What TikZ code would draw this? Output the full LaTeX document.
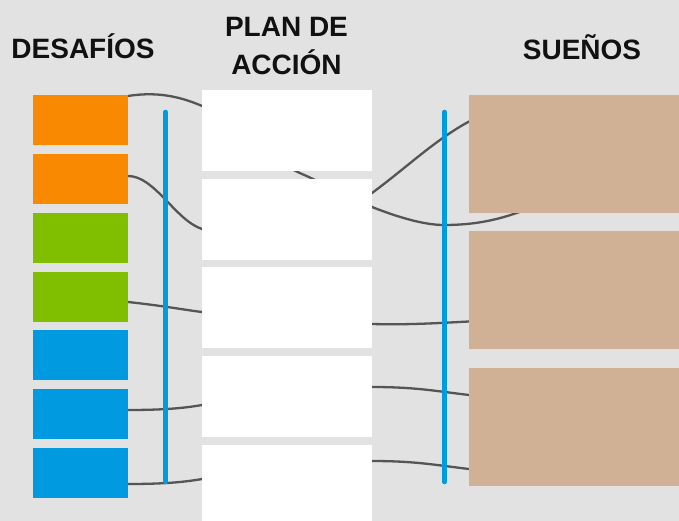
\documentclass[tikz,border=0pt]{standalone}
\usepackage{fontspec}
\setmainfont{Liberation Sans}
\usetikzlibrary{calc}
\definecolor{bggray}{RGB}{226,226,226}
\definecolor{dorange}{RGB}{248,137,0}
\definecolor{dgreen}{RGB}{128,191,0}
\definecolor{dblue}{RGB}{0,154,224}
\definecolor{stan}{RGB}{209,177,150}
\definecolor{curvegray}{RGB}{85,85,85}
\definecolor{titleblack}{RGB}{17,17,17}
\begin{document}
\begin{tikzpicture}[x=1pt,y=-1pt,
  desbox/.style={draw=none,fill=#1,minimum width=95pt,minimum height=50pt,inner sep=0pt,outer sep=0pt,anchor=north west},
  planbox/.style={draw=none,fill=white,minimum width=170pt,minimum height=81pt,inner sep=0pt,outer sep=0pt,anchor=north west},
  suebox/.style={draw=none,fill=stan,minimum width=210pt,minimum height=118pt,inner sep=0pt,outer sep=0pt,anchor=north west},
  link/.style={draw=curvegray,line width=2.3pt},
  bar/.style={draw=dblue,line width=4.5pt,line cap=round},
  title/.style={font=\bfseries\fontsize{28}{38}\selectfont,text=titleblack,inner sep=0pt,anchor=base,align=center}
]
\fill[bggray] (0,0) rectangle (679,521);
\useasboundingbox (0,0) rectangle (679,521);

% connectors drawn first (behind boxes)
\coordinate (a1) at (128,96);
\coordinate (a2) at (302,174);
\coordinate (a3) at (444,225);
\coordinate (a4) at (530,208);
\draw[link] (a1) .. controls (160,91) and (185,97) .. (215,112)
  .. controls (245,128) and (275,163) .. (a2)
  .. controls (330,186) and (350,200) .. (372,207)
  .. controls (400,218) and (425,225) .. (a3)
  .. controls (475,225) and (500,220) .. (a4);
\coordinate (b1) at (128,176);
\coordinate (b2) at (202,229);
\coordinate (b3) at (372,193);
\coordinate (b4) at (478,117);
\draw[link] (b1) .. controls (155,176) and (175,220) .. (b2)
  .. controls (280,250) and (330,217) .. (b3)
  .. controls (410,165) and (440,135) .. (b4);
\coordinate (c1) at (128,302);
\coordinate (c2) at (202,312);
\coordinate (c3) at (372,324);
\coordinate (c4) at (478,321);
\draw[link] (c1) .. controls (165,306) and (185,310) .. (c2) -- (c3)
  .. controls (410,325) and (440,323) .. (c4);
\coordinate (e1) at (128,410);
\coordinate (e2) at (202,405);
\coordinate (e3) at (372,387);
\coordinate (e4) at (478,396);
\draw[link] (e1) .. controls (165,410) and (185,408) .. (e2) -- (e3)
  .. controls (420,387) and (440,392) .. (e4);
\coordinate (f1) at (128,484);
\coordinate (f2) at (202,479);
\coordinate (f3) at (372,461);
\coordinate (f4) at (478,470);
\draw[link] (f1) .. controls (165,484) and (185,482) .. (f2) -- (f3)
  .. controls (420,461) and (440,466) .. (f4);

% left boxes
\node[desbox=dorange] (d1) at (33,95) {};
\node[desbox=dorange] (d2) at (33,154) {};
\node[desbox=dgreen] (d3) at (33,213) {};
\node[desbox=dgreen] (d4) at (33,272) {};
\node[desbox=dblue] (d5) at (33,330) {};
\node[desbox=dblue] (d6) at (33,389) {};
\node[desbox=dblue] (d7) at (33,448) {};

% plan boxes
\node[planbox] (p1) at (202,90) {};
\node[planbox] (p2) at (202,179) {};
\node[planbox] (p3) at (202,267) {};
\node[planbox] (p4) at (202,356) {};
\node[planbox,minimum height=80pt] (p5) at (202,445) {};

% dream boxes
\node[suebox] (s1) at (469,95) {};
\node[suebox] (s2) at (469,231) {};
\node[suebox] (s3) at (469,368) {};

% blue bars
\coordinate (lt) at (165.5,112);
\coordinate (lb) at (165.5,482);
\coordinate (rt) at (444.5,112);
\coordinate (rb) at (444.5,482);
\draw[bar] (lt) -- (lb);
\draw[bar] (rt) -- (rb);

% titles
\node[title] (t1) at (83,59) {DESAFÍOS};
\node[title] (t2) at (286.5,75) {PLAN DE\\ACCIÓN};
\node[title] (t3) at (582,59.5) {SUEÑOS};
\end{tikzpicture}
\end{document}
